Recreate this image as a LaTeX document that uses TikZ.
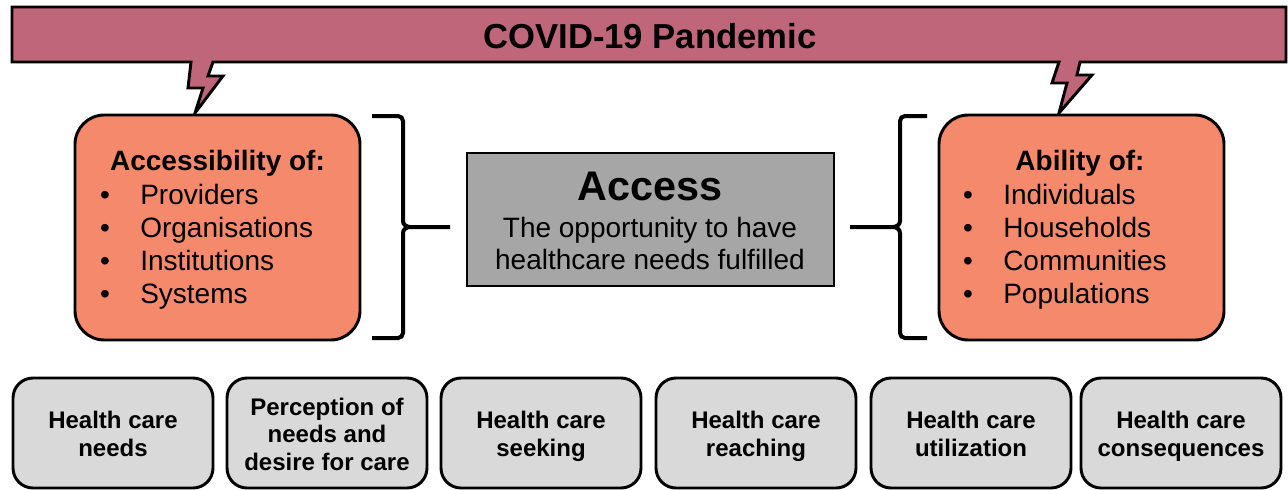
\documentclass[tikz,border=0pt]{standalone}
\usepackage{fontspec}
\setmainfont{Liberation Sans}
\definecolor{banner}{HTML}{BF667A}
\definecolor{orangebox}{HTML}{F4896C}
\definecolor{midgray}{HTML}{A6A6A6}
\definecolor{lightgray}{HTML}{D9D9D9}
\tikzset{
  outline/.style={draw=black, line width=2.2pt},
  orangestyle/.style={outline, fill=orangebox, rounded corners=22pt, inner sep=0pt, minimum width=213.75pt, minimum height=168.75pt},
  centerstyle/.style={outline, fill=midgray, inner sep=0pt, minimum width=275.25pt, minimum height=99.75pt},
  stagestyle/.style={outline, fill=lightgray, rounded corners=15pt, inner sep=0pt, minimum width=150pt, minimum height=82.5pt},
  stagetxt/.style={font=\bfseries\fontsize{18pt}{20.5pt}\selectfont, inner sep=0pt, anchor=base},
  headtxt/.style={font=\bfseries\fontsize{21pt}{24pt}\selectfont, inner sep=0pt, anchor=base},
  itemtxt/.style={font=\fontsize{21pt}{24pt}\selectfont, inner sep=0pt, anchor=base west},
  bullettxt/.style={font=\fontsize{21pt}{24pt}\selectfont, inner sep=0pt, anchor=base},
  bodytxt/.style={font=\fontsize{21pt}{24pt}\selectfont, inner sep=0pt, anchor=base},
  bracketline/.style={draw=black, line width=3pt},
}
\begin{document}
\begin{tikzpicture}[x=0.75pt, y=-0.75pt]
\useasboundingbox (0,0) rectangle (1288,489);
% banner with lightning bolts
\draw[outline, fill=banner, line join=miter]
  (12,7) -- (1286,7) -- (1286,62) -- (1080,62) -- (1077,75) -- (1092,75) -- (1059,113)
  -- (1067,83) -- (1052,83) -- (1059,62) -- (213,62) -- (208,76) -- (223,76) -- (195,113)
  -- (203,88) -- (188,88) -- (191,62) -- (12,62) -- cycle;
\node[font=\bfseries\fontsize{26pt}{30pt}\selectfont, inner sep=0pt, anchor=base] (title) at (650,48) {COVID-19 Pandemic};

% orange boxes
\node[orangestyle] (lbox) at (217.5,227.5) {};
\node[orangestyle] (rbox) at (1081.5,227.5) {};

\node[headtxt] (lhead) at (217.5,170) {Accessibility of:};
\node[bullettxt] (lb1) at (105,204) {•};
\node[bullettxt] (lb2) at (105,237) {•};
\node[bullettxt] (lb3) at (105,270) {•};
\node[bullettxt] (lb4) at (105,303) {•};
\node[itemtxt] (li1) at (140,204) {Providers};
\node[itemtxt] (li2) at (140,237) {Organisations};
\node[itemtxt] (li3) at (140,270) {Institutions};
\node[itemtxt] (li4) at (140,303) {Systems};

\node[headtxt] (rhead) at (1080,170) {Ability of:};
\node[bullettxt] (rb1) at (968,204) {•};
\node[bullettxt] (rb2) at (968,237) {•};
\node[bullettxt] (rb3) at (968,270) {•};
\node[bullettxt] (rb4) at (968,303) {•};
\node[itemtxt] (ri1) at (1003,204) {Individuals};
\node[itemtxt] (ri2) at (1003,237) {Households};
\node[itemtxt] (ri3) at (1003,270) {Communities};
\node[itemtxt] (ri4) at (1003,303) {Populations};

% center box
\node[centerstyle] (access) at (650.5,219.5) {};
\node[font=\bfseries\fontsize{31pt}{36pt}\selectfont, inner sep=0pt, anchor=base] (accesstitle) at (650,200) {Access};
\node[bodytxt] (acc1) at (650,237) {The opportunity to have};
\node[bodytxt] (acc2) at (650,269) {healthcare needs fulfilled};

% brackets
\coordinate (lbtip) at (450,227);
\coordinate (rbtip) at (850,227);
\draw[bracketline]
  (372,116) -- (398,116) to[out=0,in=90] (403,121) -- (403,221) to[out=-90,in=180] (410,227) -- (lbtip);
\draw[bracketline]
  (372,338) -- (398,338) to[out=0,in=-90] (403,333) -- (403,233) to[out=90,in=180] (410,227);
\draw[bracketline]
  (927,116) -- (905,116) to[out=180,in=90] (900,121) -- (900,221) to[out=-90,in=0] (893,227) -- (rbtip);
\draw[bracketline]
  (927,338) -- (905,338) to[out=180,in=-90] (900,333) -- (900,233) to[out=90,in=0] (893,227);

% stages
\node[stagestyle] (s1) at (113,433) {};
\node[stagestyle] (s2) at (327,433) {};
\node[stagestyle] (s3) at (541,433) {};
\node[stagestyle] (s4) at (756,433) {};
\node[stagestyle] (s5) at (971,433) {};
\node[stagestyle] (s6) at (1181,433) {};

\node[stagetxt] (s1a) at (113,428) {Health care};
\node[stagetxt] (s1b) at (113,456) {needs};
\node[stagetxt] (s2a) at (327,415) {Perception of};
\node[stagetxt] (s2b) at (327,442) {needs and};
\node[stagetxt] (s2c) at (327,470) {desire for care};
\node[stagetxt] (s3a) at (541,428) {Health care};
\node[stagetxt] (s3b) at (541,456) {seeking};
\node[stagetxt] (s4a) at (756,428) {Health care};
\node[stagetxt] (s4b) at (756,456) {reaching};
\node[stagetxt] (s5a) at (971,428) {Health care};
\node[stagetxt] (s5b) at (971,456) {utilization};
\node[stagetxt] (s6a) at (1181,428) {Health care};
\node[stagetxt] (s6b) at (1181,456) {consequences};
\end{tikzpicture}
\end{document}
